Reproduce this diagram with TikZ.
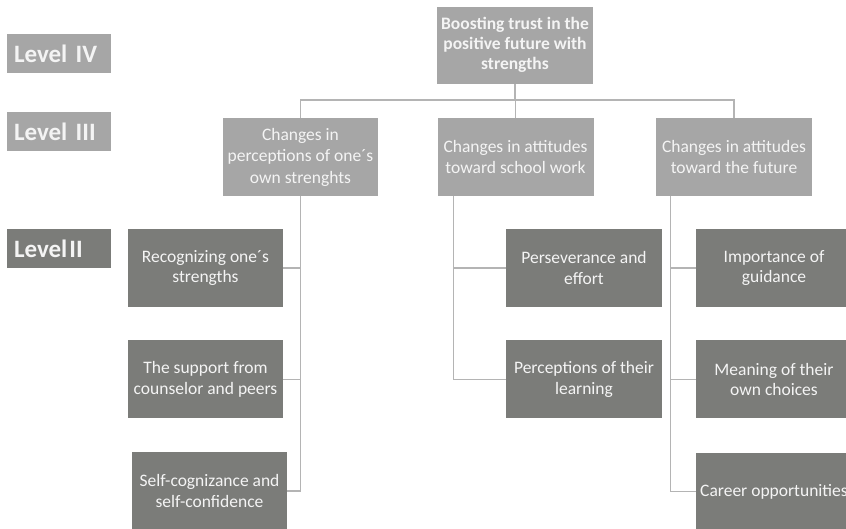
\documentclass[tikz,border=0pt]{standalone}
\usepackage{fontspec}
\setmainfont{Carlito}
\usepackage{xcolor}
\usepackage{tikz}
\usetikzlibrary{positioning, calc}
\definecolor{lightbox}{HTML}{A6A6A6}
\definecolor{darkbox}{HTML}{7B7C79}
\definecolor{linegray}{HTML}{B4B4B4}
\definecolor{boxtext}{HTML}{F4F4F4}

\begin{document}
\begin{tikzpicture}[x=1pt, y=-1pt,
		box/.style={fill=lightbox, text=boxtext, minimum width=156pt, minimum height=78pt, inner sep=0pt, align=center, font=\fontsize{17.5}{21.5}\selectfont},
		subbox/.style={box, fill=darkbox, minimum width=155pt, font=\fontsize{17.5}{20.5}\selectfont},
		lvl/.style={fill=lightbox, text=boxtext, minimum width=104pt, minimum height=39pt, text width=90pt, inner xsep=7pt, inner ysep=0pt, align=left, font=\fontsize{25}{28}\selectfont\bfseries},
		conn/.style={draw=linegray, line width=1.2pt}]
	\useasboundingbox (0,0) rectangle (846,528);
	\clip (0,0) rectangle (846,528);
	
	%% level labels
	\node[lvl] (lv4) at (59,53.5) {Level IV};
	\node[lvl] (lv3) at (59,131.5) {Level III};
	\node[lvl, fill=darkbox] (lv2) at (59,248.5) {Level\hspace{2pt}II};
	
	%% level IV and III
	\node[box, minimum height=77pt, font=\fontsize{17.5}{20}\selectfont\bfseries] (top) at (515,45) {Boosting trust in the\\positive future with\\strengths};
	\node[box, minimum width=155pt] (c1) at (300.5,157) {Changes in\\perceptions of one´s\\own strenghts};
	\node[box] (c2) at (515.5,157) {Changes in attitudes\\toward school work};
	\node[box] (c3) at (734,157) {Changes in attitudes\\toward the future};
	
	%% level II
	\node[subbox] (r1) at (205.5,268) {Recognizing one´s\\strengths};
	\node[subbox, below=33pt of r1] (r2) {The support from\\counselor and peers};
	\node[subbox] (r3) at (209.5,491) {Self-cognizance and\\self-confidence};
	\node[subbox, minimum width=156pt] (p1) at (584,268) {Perseverance and\\effort};
	\node[subbox, minimum width=156pt, below=33pt of p1] (p2) {Perceptions of their\\learning};
	\node[subbox, minimum width=156pt] (f1) at (774,268) {Importance of\\guidance};
	\node[subbox, minimum width=156pt, below=33pt of f1] (f2) {Meaning of their\\own choices};
	\node[subbox, minimum width=156pt, below=34pt of f2] (f3) {Career opportunities};
	
	%% connectors
	\coordinate (bus) at (515,100);
	\draw[conn] (top.south) -- (bus);
	\draw[conn] (c1.north) |- (bus) -| (c3.north);
	\draw[conn] (c2.north) -- (c2.north |- bus);
	\foreach \n in {r1, r2, r3} \draw[conn] (c1.south) |- (\n.east);
	\foreach \n in {p1, p2} \draw[conn] ([xshift=16pt]c2.south west) |- (\n.west);
	\foreach \n in {f1, f2, f3} \draw[conn] ([xshift=15pt]c3.south west) |- (\n.west);
	
\end{tikzpicture}
\end{document}
